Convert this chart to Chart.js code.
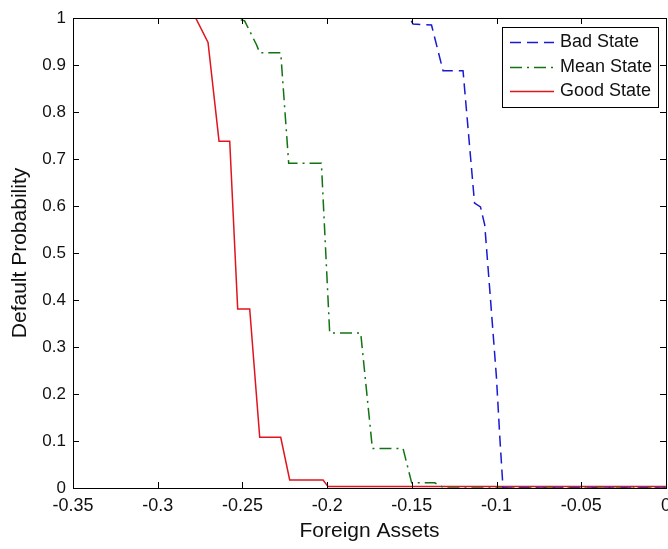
<!DOCTYPE html>
<html>
<head>
<meta charset="utf-8">
<title>Default Probability</title>
<script src="https://cdn.jsdelivr.net/npm/chart.js@4.4.1/dist/chart.umd.min.js"></script>
<style>
    html, body { margin: 0; padding: 0; background: #fff; overflow: hidden; }
    #wrap { width: 680px; height: 549px; }
</style>
</head>
<body>
<div id="wrap"><canvas id="myChart"></canvas></div>
<script>
// Curvas de probabilidade de default por estado (x = ativos externos)
const badX  = [-0.35, -0.1512, -0.1493, -0.1384, -0.1316, -0.1198, -0.1130, -0.1095, -0.1070, -0.1040, -0.1001, -0.0981, -0.0962, 0];
const badY  = [1, 1, 0.987, 0.985, 0.888, 0.888, 0.606, 0.598, 0.560, 0.421, 0.237, 0.109, 0, 0];

const meanX = [-0.35, -0.2546, -0.2487, -0.2417, -0.2398, -0.2274, -0.2227, -0.2034, -0.1985, -0.1802, -0.1733, -0.1552, -0.1501, -0.1365, -0.1306, 0];
const meanY = [1, 1, 0.994, 0.943, 0.926, 0.926, 0.691, 0.691, 0.330, 0.330, 0.084, 0.084, 0.011, 0.011, 0, 0];

const goodX = [-0.35, -0.2776, -0.2703, -0.2638, -0.2575, -0.2528, -0.2457, -0.2398, -0.2274, -0.2221, -0.2024, -0.1995, 0];
const goodY = [1, 1, 0.948, 0.738, 0.738, 0.381, 0.381, 0.108, 0.108, 0.017, 0.017, 0.003, 0.003];

const xTicks = [-0.35, -0.3, -0.25, -0.2, -0.15, -0.1, -0.05, 0];
const xTickLabels = ['-0.35', '-0.3', '-0.25', '-0.2', '-0.15', '-0.1', '-0.05', '0'];
const yTicks = [0, 0.1, 0.2, 0.3, 0.4, 0.5, 0.6, 0.7, 0.8, 0.9, 1];
const yTickLabels = ['0', '0.1', '0.2', '0.3', '0.4', '0.5', '0.6', '0.7', '0.8', '0.9', '1'];

const fonte = '"Liberation Sans", Arial, Helvetica, sans-serif';

/**
 * Junta os vetores x e y no formato de pontos do Chart.js.
 */
function montaPontos(xs, ys) {
    return xs.map((x, i) => ({ x: x, y: ys[i] }));
}

// Caixa dos eixos com ticks para dentro (estilo MATLAB), desenhada por cima das linhas
const caixaEixos = {
    id: 'caixaEixos',
    afterDatasetsDraw(chart) {
        const { ctx, chartArea: a, scales } = chart;
        const tam = 6;
        ctx.save();
        ctx.strokeStyle = '#000';
        ctx.lineWidth = 1;
        ctx.beginPath();
        xTicks.forEach(v => {
            const px = Math.round(scales.x.getPixelForValue(v)) + 0.5;
            ctx.moveTo(px, a.bottom); ctx.lineTo(px, a.bottom - tam);
            ctx.moveTo(px, a.top); ctx.lineTo(px, a.top + tam);
        });
        yTicks.forEach(v => {
            const py = Math.round(scales.y.getPixelForValue(v)) + 0.5;
            ctx.moveTo(a.left, py); ctx.lineTo(a.left + tam, py);
            ctx.moveTo(a.right, py); ctx.lineTo(a.right - tam, py);
        });
        ctx.stroke();
        ctx.strokeRect(Math.round(a.left) + 0.5, Math.round(a.top) + 0.5,
            Math.round(a.right - a.left), Math.round(a.bottom - a.top));
        ctx.restore();
    }
};

// Legenda em caixa no canto superior direito da area do grafico
const legendaCaixa = {
    id: 'legendaCaixa',
    afterDraw(chart) {
        const { ctx, chartArea: a } = chart;
        const larg = 156, alt = 80;
        const esq = a.right - 8 - larg;
        const topo = a.top + 9;
        ctx.save();
        ctx.fillStyle = '#fff';
        ctx.fillRect(esq, topo, larg, alt);
        ctx.strokeStyle = '#000';
        ctx.lineWidth = 1;
        ctx.strokeRect(Math.round(esq) + 0.5, Math.round(topo) + 0.5, larg, alt);
        ctx.font = '18px ' + fonte;
        ctx.textBaseline = 'middle';
        ctx.textAlign = 'left';
        chart.data.datasets.forEach((ds, i) => {
            const y = Math.round(topo + 15 + i * 24.5) + 0.5;
            ctx.strokeStyle = ds.borderColor;
            ctx.lineWidth = ds.borderWidth;
            ctx.setLineDash(ds.borderDash || []);
            ctx.beginPath();
            ctx.moveTo(esq + 8, y);
            ctx.lineTo(esq + 52, y);
            ctx.stroke();
            ctx.setLineDash([]);
            ctx.fillStyle = '#111';
            ctx.fillText(ds.label, esq + 58, y);
        });
        ctx.restore();
    }
};

function criaGrafico() {
    const dataSet = [
        {
            label: 'Bad State',
            data: montaPontos(badX, badY),
            borderColor: '#1a1ad0',
            borderDash: [11, 6],
            borderWidth: 1.5,
        },
        {
            label: 'Mean State',
            data: montaPontos(meanX, meanY),
            borderColor: '#127312',
            borderDash: [12, 5, 2, 5],
            borderWidth: 1.5,
        },
        {
            label: 'Good State',
            data: montaPontos(goodX, goodY),
            borderColor: '#e0141e',
            borderWidth: 1.5,
        },
    ];

    const config = {
        type: 'line',
        data: { datasets: dataSet },
        options: {
            responsive: true,
            maintainAspectRatio: false,
            animation: false,
            layout: { padding: { left: 0, right: 14, top: 18, bottom: 0 } },
            elements: {
                point: { radius: 0, hoverRadius: 0 },
                line: { tension: 0, fill: false },
            },
            plugins: {
                legend: { display: false },
                tooltip: { enabled: false },
            },
            scales: {
                x: {
                    type: 'linear',
                    min: -0.35,
                    max: 0,
                    afterBuildTicks: scale => { scale.ticks = xTicks.map(v => ({ value: v })); },
                    afterFit: scale => { scale.height = 61; },
                    grid: { display: false, drawTicks: false },
                    border: { display: false },
                    ticks: {
                        autoSkip: false,
                        maxRotation: 0,
                        padding: 7,
                        color: '#111',
                        font: { family: fonte, size: 18 },
                        callback: (v, i) => xTickLabels[i],
                    },
                    title: {
                        display: true,
                        text: 'Foreign Assets',
                        color: '#111',
                        font: { family: fonte, size: 21 },
                        padding: { top: 0, bottom: 5 },
                    },
                },
                y: {
                    type: 'linear',
                    min: 0,
                    max: 1,
                    afterBuildTicks: scale => { scale.ticks = yTicks.map(v => ({ value: v })); },
                    afterFit: scale => { scale.width = 73; },
                    grid: { display: false, drawTicks: false },
                    border: { display: false },
                    ticks: {
                        autoSkip: false,
                        padding: 7,
                        color: '#111',
                        font: { family: fonte, size: 17 },
                        callback: (v, i) => yTickLabels[i],
                    },
                    title: {
                        display: true,
                        text: 'Default Probability',
                        color: '#111',
                        font: { family: fonte, size: 21 },
                        padding: { top: 8, bottom: 0 },
                    },
                },
            },
        },
        plugins: [caixaEixos, legendaCaixa],
    };

    return new Chart(document.getElementById('myChart'), config);
}

const objGrafico = criaGrafico();
</script>
</body>
</html>
